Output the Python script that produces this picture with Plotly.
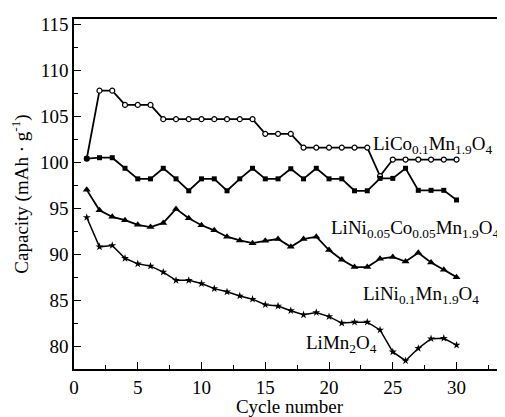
import plotly.graph_objects as go

cycles = list(range(1, 31))

lico = [100.4, 107.8, 107.8, 106.25, 106.25, 106.25,
        104.7, 104.7, 104.7, 104.7, 104.7, 104.7, 104.7, 104.7,
        103.1, 103.1, 103.1,
        101.6, 101.6, 101.6, 101.6, 101.6, 101.6,
        98.5,
        100.3, 100.3, 100.3, 100.3, 100.3, 100.3]

linico = [100.4, 100.5, 100.5, 99.35, 98.2, 98.2, 99.35, 98.2, 96.9, 98.2,
          98.2, 96.9, 98.2, 99.35, 98.2, 98.2, 99.3, 98.2, 99.35, 98.2,
          98.2, 96.9, 96.9, 98.25, 98.25, 99.35, 96.95, 96.95, 96.95, 95.9]

lini = [97.0, 94.77, 94.07, 93.7, 93.2, 92.95, 93.4, 94.93, 93.9, 93.15,
        92.6, 91.9, 91.5, 91.2, 91.45, 91.65, 90.8, 91.65, 91.9, 90.45,
        89.4, 88.6, 88.6, 89.5, 89.7, 89.2, 90.15, 89.1, 88.3, 87.5]

limn = [94.0, 90.8, 90.95, 89.55, 88.95, 88.7, 88.05, 87.15, 87.15, 86.8,
        86.25, 85.9, 85.45, 85.1, 84.5, 84.35, 83.85, 83.4, 83.65, 83.2,
        82.5, 82.6, 82.6, 81.75, 79.36, 78.4, 79.75, 80.8, 80.85, 80.1]

series_labels = ["LiCo<sub>0.1</sub>Mn<sub>1.9</sub>O<sub>4</sub>",
                 "LiNi<sub>0.05</sub>Co<sub>0.05</sub>Mn<sub>1.9</sub>O<sub>4</sub>",
                 "LiNi<sub>0.1</sub>Mn<sub>1.9</sub>O<sub>4</sub>",
                 "LiMn<sub>2</sub>O<sub>4</sub>"]
label_x = [28.15, 26.74, 27.2, 21.0]
label_y = [101.9, 92.7, 85.6, 80.2]

FONT = "Liberation Serif, Times New Roman, serif"

fig = go.Figure()
fig.add_trace(go.Scatter(x=cycles, y=lico, mode="lines+markers",
                         line=dict(color="black", width=1.8),
                         marker=dict(symbol="circle", size=5, color="white",
                                     line=dict(color="black", width=1.2))))
fig.add_trace(go.Scatter(x=cycles, y=linico, mode="lines+markers",
                         line=dict(color="black", width=1.8),
                         marker=dict(symbol="square", size=5, color="black")))
fig.add_trace(go.Scatter(x=cycles, y=lini, mode="lines+markers",
                         line=dict(color="black", width=1.8),
                         marker=dict(symbol="triangle-up", size=7, color="black")))
fig.add_trace(go.Scatter(x=cycles, y=limn, mode="lines+markers",
                         line=dict(color="black", width=1.5),
                         marker=dict(symbol="star", size=6, color="black")))

for t, lx, ly in zip(series_labels, label_x, label_y):
    fig.add_annotation(x=lx, y=ly, xref="x", yref="y", text=t, showarrow=False,
                       xanchor="center", yanchor="middle",
                       font=dict(family=FONT, size=19, color="black"))

# page body has an 8px margin, so the figure is offset by 8px; size compensates
fig.update_layout(
    width=497, height=409,
    margin=dict(l=66, r=0, t=11, b=46),
    paper_bgcolor="white", plot_bgcolor="white",
    showlegend=False,
    font=dict(family=FONT, size=19, color="black"),
)
fig.update_xaxes(range=[0, 33.8], tickvals=[0, 5, 10, 15, 20, 25, 30],
                 ticks="inside", ticklen=7, tickwidth=1.2, tickcolor="black",
                 minor=dict(dtick=2.5, tick0=0, ticks="inside", ticklen=4, tickcolor="black"),
                 showline=True, linecolor="black", linewidth=1.5, mirror=True,
                 showgrid=False, zeroline=False,
                 title=dict(text="Cycle number", standoff=6,
                            font=dict(family=FONT, size=19)),
                 tickfont=dict(family=FONT, size=19))
fig.update_yaxes(range=[77.5, 115.6], tickvals=[80, 85, 90, 95, 100, 105, 110, 115],
                 ticks="inside", ticklen=7, tickwidth=1.2, tickcolor="black",
                 minor=dict(dtick=2.5, tick0=0, ticks="inside", ticklen=4, tickcolor="black"),
                 showline=True, linecolor="black", linewidth=1.5, mirror=False,
                 showgrid=False, zeroline=False,
                 title=dict(text="Capacity (mAh · g<sup>-1</sup>)", standoff=6,
                            font=dict(family=FONT, size=19)),
                 tickfont=dict(family=FONT, size=19))

fig.write_html("out.html")
